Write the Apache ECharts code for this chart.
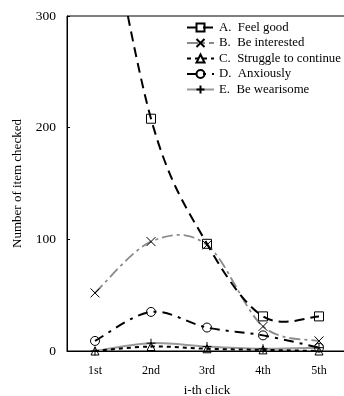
<!DOCTYPE html>
<html><head><meta charset="utf-8">
<script src="https://cdn.jsdelivr.net/npm/echarts@6/dist/echarts.min.js"></script>
<style>html,body{margin:0;padding:0;background:#fff}#c{width:344px;height:396px}</style>
</head><body><div id="c"></div>
<script>
const categories = ['1st','2nd','3rd','4th','5th'];
const seriesNames = ['A.  Feel good','B.  Be interested','C.  Struggle to continue','D.  Anxiously','E.  Be wearisome'];
const feelGood = [455, 208, 96, 31, 31];
const beInterested = [52, 98, 95, 22, 9];
const struggle = [0, 4, 2, 1, 0];
const anxiously = [9, 35, 21, 14, 3];
const wearisome = [0, 7, 4, 2, 3];
const yTicks = [0, 100, 200, 300];

const FONT = '"Liberation Serif", "Times New Roman", serif';
const xPath = 'path://M0,0L10,10M10,0L0,10';
const plusPath = 'path://M5,0L5,10M0,5L10,5';

const styles = [
  { symbol: 'rect', size: 9, color: '#000', dash: [10,6], width: 2, z: 6 },
  { symbol: xPath, size: 9, color: '#8a8a8a', dash: [11,4,3,4], width: 1.8, z: 5 },
  { symbol: 'triangle', size: 8, color: '#000', dash: [4,4], width: 2, z: 4 },
  { symbol: 'circle', size: 9, color: '#000', dash: [10,6,3,6], width: 2, z: 5 },
  { symbol: plusPath, size: 9, color: '#999', dash: 'solid', width: 2, z: 3 }
];
const allValues = [feelGood, beInterested, struggle, anxiously, wearisome];

function markerSeries(name, data, o) {
  return {
    name, type: 'line', data, smooth: false, clip: true,
    symbol: o.symbol, symbolSize: o.size, showAllSymbol: true,
    itemStyle: { color: 'rgba(255,255,255,0)', borderColor: '#000', borderWidth: 1 },
    lineStyle: { opacity: 0 },
    z: o.z + 1
  };
}

// smooth curve through the data points, positioned via the chart's own axes (api.coord)
function curveSeries(values, o) {
  return {
    type: 'custom', silent: true, z: o.z,
    data: [[0, 0]],
    renderItem: function (params, api) {
      const pts = values.map((v, i) => api.coord([i, v]));
      const n = pts.length;
      let d = 'M' + pts[0][0] + ' ' + pts[0][1];
      for (let i = 0; i < n - 1; i++) {
        const p0 = pts[Math.max(i - 1, 0)], p1 = pts[i], p2 = pts[i + 1], p3 = pts[Math.min(i + 2, n - 1)];
        const c1 = [p1[0] + (p2[0] - p0[0]) / 6, p1[1] + (p2[1] - p0[1]) / 6];
        const c2 = [p2[0] - (p3[0] - p1[0]) / 6, p2[1] - (p3[1] - p1[1]) / 6];
        d += 'C' + c1[0] + ' ' + c1[1] + ' ' + c2[0] + ' ' + c2[1] + ' ' + p2[0] + ' ' + p2[1];
      }
      const cs = params.coordSys;
      return {
        type: 'path',
        shape: { pathData: d },
        style: { fill: null, stroke: o.color, lineWidth: o.width, lineDash: o.dash === 'solid' ? null : o.dash },
        clipPath: { type: 'rect', shape: { x: cs.x, y: cs.y, width: cs.width, height: cs.height } }
      };
    }
  };
}

const series = [];
allValues.forEach((vals, i) => {
  series.push(curveSeries(vals, styles[i]));
  series.push(markerSeries(seriesNames[i], vals, styles[i]));
});

const chart = echarts.init(document.getElementById('c'), null, {renderer: 'canvas'});
chart.setOption({
  animation: false,
  backgroundColor: '#fff',
  textStyle: { fontFamily: FONT },
  grid: { left: 67, right: -3, top: 16, bottom: 45, show: true, borderColor: '#000', borderWidth: 1,
          containLabel: false, outerBoundsMode: 'none' },
  legend: {
    left: 181, top: 16, orient: 'vertical', itemGap: 2.5, itemWidth: 27, itemHeight: 10,
    textStyle: { fontFamily: FONT, fontSize: 12.8, color: '#000' },
    data: seriesNames.map((nm, i) => ({
      name: nm,
      lineStyle: { color: styles[i].color, width: styles[i].width, type: styles[i].dash, opacity: 1 }
    }))
  },
  xAxis: {
    type: 'category', data: categories, boundaryGap: true,
    name: 'i-th click', nameLocation: 'middle', nameGap: 33,
    nameTextStyle: { fontFamily: FONT, fontSize: 13, color: '#000' },
    axisLine: { lineStyle: { color: '#000', width: 1 } },
    axisTick: { inside: true, length: 3, lineStyle: { color: '#000' } },
    axisLabel: { fontFamily: FONT, fontSize: 12, color: '#000', margin: 14 },
    splitLine: { show: false }
  },
  yAxis: {
    type: 'value', min: yTicks[0], max: yTicks[yTicks.length-1], interval: 100,
    name: 'Number of item checked', nameLocation: 'middle', nameGap: 43,
    nameTextStyle: { fontFamily: FONT, fontSize: 13, color: '#000' },
    axisLine: { show: true, lineStyle: { color: '#000', width: 1 } },
    axisTick: { show: true, inside: true, length: 3, lineStyle: { color: '#000' } },
    axisLabel: { fontFamily: FONT, fontSize: 13.5, color: '#000', margin: 11 },
    splitLine: { show: false }
  },
  series
});
</script></body></html>
